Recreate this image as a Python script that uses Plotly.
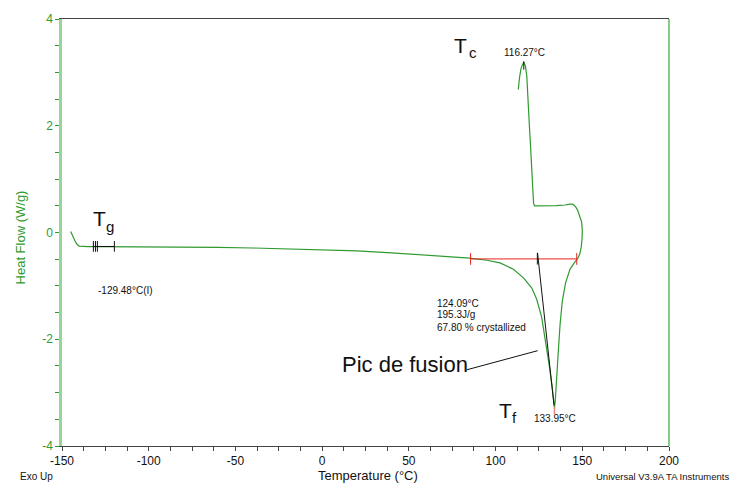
import plotly.graph_objects as go

# ---- DSC curve (Temperature °C, Heat Flow W/g) ----
TEMP = [-145.0, -144.0, -143.0, -142.0, -141.0, -140.0, -138.0, -135.0, -130.0, -120.0,
        -100.0, -80.0, -60.0, -40.0, -20.0, 0.0, 20.0, 40.0, 60.0, 75.0, 85.0, 95.0,
        102.6, 110.3, 116.1, 120.9, 123.7, 126.6, 128.9, 130.8, 132.4, 133.3, 133.95,
        134.4, 135.3, 136.2, 137.2, 138.5, 140.4, 142.9, 145.8, 147.3, 148.6, 149.4,
        149.9, 150.0, 149.6, 148.5, 147.3, 146.0, 144.5, 143.0, 140.0, 135.0, 128.0,
        122.5, 121.9, 121.4, 120.8, 120.2, 119.5, 118.9, 118.0, 117.2, 116.27, 115.4,
        114.6, 113.8, 113.1]
HEATFLOW = [0.02, -0.04, -0.12, -0.19, -0.235, -0.255, -0.262, -0.265, -0.265, -0.265,
            -0.268, -0.272, -0.278, -0.29, -0.305, -0.32, -0.345, -0.38, -0.425, -0.455,
            -0.48, -0.52, -0.57, -0.69, -0.85, -1.04, -1.25, -1.59, -2.03, -2.46, -2.83,
            -3.14, -3.28, -3.16, -2.77, -2.21, -1.72, -1.28, -0.94, -0.69, -0.55, -0.49,
            -0.40, -0.27, -0.1, 0.05, 0.2, 0.32, 0.42, 0.49, 0.53, 0.53, 0.515, 0.505,
            0.495, 0.50, 0.55, 0.8, 1.2, 1.6, 2.0, 2.31, 2.93, 3.12, 3.19, 3.14, 3.06,
            2.9, 2.68]

# ---- analysis marks ----
TG_LINE_T = [-132.3, -119.8]
TG_LINE_HF = [-0.262, -0.262]
TG_TICKS_T = [-131.9, -130.7, -129.6, -119.8]
BASE_T = [85.6, 146.8]
BASE_HF = [-0.495, -0.495]
ONSET_T = [124.2, 133.7]
ONSET_HF = [-0.38, -3.24]
ONSET_TICK_T = 124.09
TC_PEAK = (116.27, 3.19)
TF_PEAK = (133.95, -3.28)
POINTER_T = [83.3, 124.3]
POINTER_HF = [-2.573, -2.214]

X_TICKS = [-150, -100, -50, 0, 50, 100, 150, 200]
Y_TICKS = [-4, -2, 0, 2, 4]

GREEN = "#2f9a2f"
FONT = "Liberation Sans, Arial, sans-serif"

fig = go.Figure()
fig.add_trace(go.Scatter(x=TEMP, y=HEATFLOW, mode="lines",
                         line=dict(color=GREEN, width=1.2), hoverinfo="skip"))

def seg(xs, ys, color, width=1.0):
    fig.add_trace(go.Scatter(x=xs, y=ys, mode="lines",
                             line=dict(color=color, width=width), hoverinfo="skip"))

seg(TG_LINE_T, TG_LINE_HF, "#111")
for t in TG_TICKS_T:
    seg([t, t], [-0.16, -0.36], "#111")
seg(BASE_T, BASE_HF, "#e8241c")
for t in BASE_T:
    seg([t, t], [-0.385, -0.605], "#e8241c")
seg(ONSET_T, ONSET_HF, "#111")
seg([ONSET_TICK_T, ONSET_TICK_T], [-0.385, -0.6], "#111")
seg([TC_PEAK[0], TC_PEAK[0]], [3.21, 3.05], "#111")
seg([TF_PEAK[0], TF_PEAK[0]], [-3.27, -3.41], "#f08080", 1.5)
seg(POINTER_T, POINTER_HF, "#111")

def ann(x, y, text, size, xanchor="left", color="#111", ref="data", angle=0):
    d = dict(x=x, y=y, text=text, showarrow=False, xanchor=xanchor, yanchor="middle",
             font=dict(family=FONT, size=size, color=color), textangle=angle)
    if ref == "paper":
        d.update(xref="paper", yref="paper")
    fig.add_annotation(**d)

# big symbols
ann(74.6, 3.50, "T", 21)
ann(83.5, 3.372, "c", 15)
ann(-133.0, 0.26, "T", 21)
ann(-125.5, 0.11, "g", 15)
ann(100.8, -3.34, "T", 21)
ann(108.6, -3.475, "f", 15)
ann(10.3, -2.474, "Pic de fusion", 22)

# small labels
ann(116.8, 3.37, "116.27°C", 10, xanchor="center")
ann(-130.4, -1.088, "-129.48°C(I)", 10)
ann(65.1, -1.321, "124.09°C", 10)
ann(65.1, -1.544, "195.3J/g", 10)
ann(65.1, -1.777, "67.80 % crystallized", 10)
ann(134.3, -3.479, "133.95°C", 10, xanchor="center")

# paper-pixel helpers
def px(x):
    return (x - 62) / 607
def py(y):
    return (446 - y) / 430

ann(px(18), py(476.5), "Exo Up", 10, ref="paper")
ann(px(367.5), py(475.5), "Temperature (°C)", 13, xanchor="center", ref="paper")
ann(px(594), py(476.5), "Universal V3.9A TA Instruments", 9.5, ref="paper")
ann(px(20), py(236), "Heat Flow (W/g)", 13, xanchor="center", color=GREEN,
    ref="paper", angle=-90)

# right border
fig.add_shape(type="line", xref="paper", yref="paper", x0=1, x1=1, y0=0, y1=1,
              line=dict(color="#5cbb5c", width=1.5))

fig.update_layout(
    width=730, height=483, margin=dict(l=62, r=61, t=16, b=37),
    paper_bgcolor="white", plot_bgcolor="white", showlegend=False,
    font=dict(family=FONT, size=12, color="#111"),
)
fig.update_xaxes(range=[-150, 200], showgrid=False, zeroline=False,
                 showline=True, linecolor="#444", linewidth=1, mirror=True,
                 tickvals=X_TICKS, ticktext=[str(v) for v in X_TICKS],
                 ticks="outside", ticklen=4, tickcolor="#444", tickwidth=1,
                 tickfont=dict(size=12, color="#111"),
                 minor=dict(tick0=-150, dtick=12.5, ticks="outside", ticklen=4,
                            tickcolor="#444", tickwidth=1))
fig.update_yaxes(range=[-4, 4], showgrid=False, zeroline=False,
                 showline=True, linecolor="#98d498", linewidth=2.5,
                 tickvals=Y_TICKS, ticktext=[str(v) for v in Y_TICKS],
                 ticks="outside", ticklen=4, tickcolor=GREEN, tickwidth=1,
                 tickfont=dict(size=12, color=GREEN),
                 minor=dict(tick0=-4, dtick=0.5, ticks="outside", ticklen=4,
                            tickcolor=GREEN, tickwidth=1))

fig.write_html("out.html")
